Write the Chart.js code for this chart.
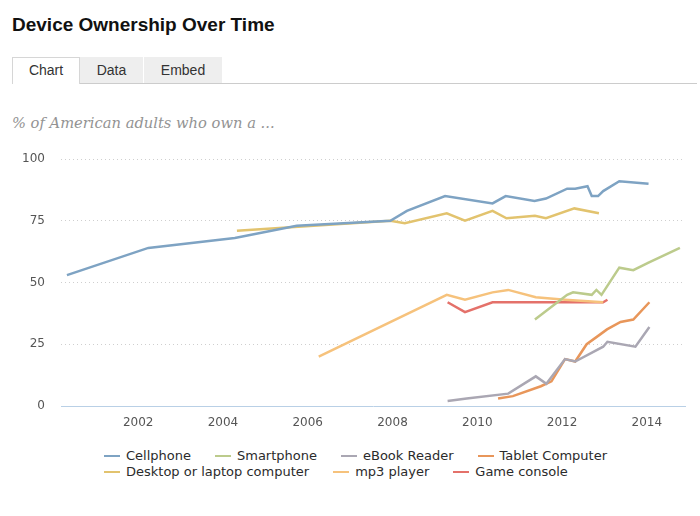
<!DOCTYPE html>
<html>
<head>
<meta charset="utf-8">
<title>Device Ownership Over Time</title>
<script src="https://cdn.jsdelivr.net/npm/chart.js@4.4.0/dist/chart.umd.min.js"></script>
<style>
    body { margin: 0; background: #fff; font-family: "Liberation Sans", Arial, sans-serif; }
    #title { position: absolute; left: 12px; top: 15px; font-size: 19px; line-height: 19px; font-weight: bold; color: #111; }
    #tabs { position: absolute; left: 12px; top: 57px; width: 685px; height: 26px; border-bottom: 1px solid #ccc; }
    .tab { float: left; box-sizing: border-box; height: 26px; line-height: 26px; text-align: center; font-size: 14px; color: #333; background: #eee; }
    .tab.active { background: #fff; border: 1px solid #d6d6d6; border-bottom: none; height: 27px; line-height: 25px; }
    .tab.sep { border-left: 1px solid #fff; }
    #subtitle { position: absolute; left: 12px; top: 116px; font-family: "DejaVu Serif", serif; font-style: italic; font-size: 14.7px; line-height: 14px; color: #939393; }
    #wrap { position: absolute; left: 0; top: 140px; width: 700px; height: 300px; }
    #legend { position: absolute; left: 104px; top: 448px; width: 540px; font-family: "DejaVu Sans", sans-serif; font-size: 13px; line-height: 16px; color: #2b2b2b; }
    .item { display: inline-block; margin-right: 24px; white-space: nowrap; }
    .mark { display: inline-block; width: 16px; height: 2px; margin-right: 6px; vertical-align: middle; position: relative; top: -1px; }
</style>
</head>
<body>
<div id="title">Device Ownership Over Time</div>
<div id="tabs">
    <div class="tab active" style="width:68px">Chart</div>
    <div class="tab" style="width:63px">Data</div>
    <div class="tab sep" style="width:79px">Embed</div>
</div>
<div id="subtitle">% of American adults who own a ...</div>
<div id="wrap"><canvas id="chart" width="700" height="300"></canvas></div>
<div id="legend"></div>

<script>
    var xTicks = [2002, 2004, 2006, 2008, 2010, 2012, 2014];
    var yTicks = [0, 25, 50, 75, 100];

    var seriesNames = ['Cellphone', 'Smartphone', 'eBook Reader', 'Tablet Computer',
        'Desktop or laptop computer', 'mp3 player', 'Game console'];
    var seriesColors = ['#7ea3c3', '#bccb8c', '#aaa7b3', '#e8965a', '#e2c36e', '#f6c27c', '#e4716a'];

    var cellphoneYears = [2000.32, 2002.24, 2004.28, 2005.74, 2007.95, 2008.34, 2009.24, 2010.36, 2010.67, 2011.35, 2011.62, 2012.12, 2012.31, 2012.6, 2012.7, 2012.85, 2012.97, 2013.35, 2014.04];
    var cellphoneValues = [53, 64, 68, 73, 75, 79, 85, 82, 85, 83, 84, 88, 88, 89, 85, 85, 87, 91, 90];

    var smartphoneYears = [2011.36, 2012.12, 2012.26, 2012.7, 2012.81, 2012.93, 2013.35, 2013.68, 2014.04, 2014.78];
    var smartphoneValues = [35, 45, 46, 45, 47, 45, 56, 55, 58, 64];

    var ebookYears = [2009.3, 2009.75, 2010.73, 2011.38, 2011.63, 2012.07, 2012.31, 2012.97, 2013.07, 2013.73, 2014.06];
    var ebookValues = [2, 3, 5, 12, 9, 19, 18, 24, 26, 24, 32];

    var tabletYears = [2010.49, 2010.84, 2011.5, 2011.75, 2012.07, 2012.31, 2012.58, 2012.9, 2013.06, 2013.38, 2013.68, 2014.06];
    var tabletValues = [3, 4, 8, 10, 19, 18, 25, 29, 31, 34, 35, 42];

    var desktopYears = [2004.33, 2007.95, 2008.29, 2009.28, 2009.71, 2010.36, 2010.69, 2011.36, 2011.62, 2012.29, 2012.87];
    var desktopValues = [71, 75, 74, 78, 75, 79, 76, 77, 76, 80, 78];

    var mp3Years = [2006.26, 2009.28, 2009.71, 2010.36, 2010.73, 2011.38, 2012.07, 2012.97];
    var mp3Values = [20, 45, 43, 46, 47, 44, 43, 42];

    var consoleYears = [2009.3, 2009.71, 2010.36, 2012.97, 2013.07];
    var consoleValues = [42, 38, 42, 42, 43];

    function toPoints(years, values) {
        return years.map(function (yr, i) {
            return { x: yr, y: values[i] };
        });
    }

    var seriesData = [
        toPoints(cellphoneYears, cellphoneValues),
        toPoints(smartphoneYears, smartphoneValues),
        toPoints(ebookYears, ebookValues),
        toPoints(tabletYears, tabletValues),
        toPoints(desktopYears, desktopValues),
        toPoints(mp3Years, mp3Values),
        toPoints(consoleYears, consoleValues)
    ];

    var datasets = seriesNames.map(function (name, i) {
        return {
            label: name,
            data: seriesData[i],
            borderColor: seriesColors[i],
            backgroundColor: seriesColors[i],
            borderWidth: 2.5,
            pointRadius: 0,
            fill: false,
            tension: 0
        };
    });

    var tickFont = { family: 'DejaVu Sans', size: 12 };

    var chart = new Chart(document.getElementById('chart').getContext('2d'), {
        type: 'line',
        data: { datasets: datasets },
        options: {
            responsive: false,
            animation: false,
            layout: { padding: { top: 19, right: 15, left: 0, bottom: 0 } },
            plugins: {
                legend: { display: false },
                tooltip: { enabled: false }
            },
            scales: {
                x: {
                    type: 'linear',
                    min: 2000.18,
                    max: 2014.9,
                    grid: { display: false, drawTicks: false },
                    border: { display: true, color: '#b9d0e6', width: 1 },
                    ticks: {
                        padding: 10,
                        color: '#555',
                        font: tickFont,
                        callback: function (v) { return String(v); }
                    },
                    afterBuildTicks: function (s) {
                        s.ticks = xTicks.map(function (v) { return { value: v }; });
                    },
                    afterFit: function (s) { s.height = 34; }
                },
                y: {
                    min: 0,
                    max: 100,
                    grid: {
                        drawTicks: false,
                        color: function (ctx) {
                            return ctx.tick && ctx.tick.value === 0 ? 'rgba(0,0,0,0)' : '#cfcfcf';
                        }
                    },
                    border: { display: false, dash: [1, 3] },
                    ticks: { padding: 16, color: '#555', font: tickFont },
                    afterBuildTicks: function (s) {
                        s.ticks = yTicks.map(function (v) { return { value: v }; });
                    },
                    afterFit: function (s) {
                        s.width = 61;
                        // tick padding would otherwise push the plot top down
                        s.paddingTop = 8;
                        s.paddingBottom = 8;
                    }
                }
            }
        }
    });

    // legend built from the datasets
    var legendBox = document.getElementById('legend');
    chart.data.datasets.forEach(function (ds) {
        var item = document.createElement('span');
        item.className = 'item';
        var mark = document.createElement('span');
        mark.className = 'mark';
        mark.style.background = ds.borderColor;
        item.appendChild(mark);
        item.appendChild(document.createTextNode(ds.label));
        legendBox.appendChild(item);
    });
</script>
</body>
</html>
